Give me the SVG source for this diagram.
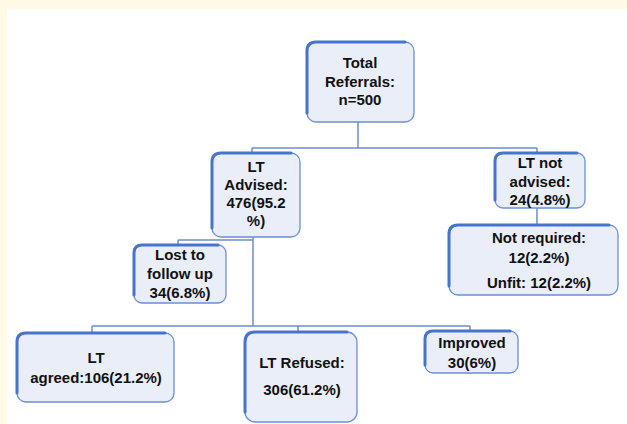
<svg xmlns="http://www.w3.org/2000/svg" width="627" height="424" viewBox="0 0 627 424">
<style>
.box{fill:#eaeef8;stroke:#6a90d6;stroke-width:1.3}
.edge{fill:none;stroke:#4674cc;stroke-width:3;stroke-linecap:round}
.conn{fill:none;stroke:#6c8dc8;stroke-width:1.5}
text{font-family:"Liberation Sans",Arial,sans-serif;font-weight:bold;font-size:15px;fill:#111111;text-anchor:middle}
</style>
<rect x="0" y="0" width="627" height="424" fill="#ffffff"/>
<rect x="0" y="0" width="627" height="9" fill="#fffae6"/>
<rect x="0" y="0" width="7" height="424" fill="#fffae6"/>
<g id="connectors">
<path class="conn" d="M358,122 V148 M252,148 H537 M252,148 V153 M537,148 V153"/>
<path class="conn" d="M253,237 V326 M178,240 H253 M178,240 V245"/>
<path class="conn" d="M92,326 H470 M92,326 V333 M298,326 V332 M470,326 V331"/>
<path class="conn" d="M537,208 V225"/>
</g>
<g id="total">
<rect class="box" x="307" y="42" width="107" height="80" rx="9"/>
<path class="edge" d="M307,113 V51 Q307,42 316,42 H405"/>
<text x="360" y="68">Total</text>
<text x="360" y="87">Referrals:</text>
<text x="360" y="105">n=500</text>
</g>
<g id="lt-advised">
<rect class="box" x="212" y="153" width="88" height="84" rx="9"/>
<path class="edge" d="M212,228 V162 Q212,153 221,153 H291"/>
<text x="256" y="172">LT</text>
<text x="256" y="190">Advised:</text>
<text x="256" y="208">476(95.2</text>
<text x="256" y="226">%)</text>
</g>
<g id="lt-not-advised">
<rect class="box" x="495" y="153" width="90" height="55" rx="8"/>
<path class="edge" d="M495,200 V161 Q495,153 503,153 H577"/>
<text x="540" y="168">LT not</text>
<text x="540" y="187">advised:</text>
<text x="540" y="205">24(4.8%)</text>
</g>
<g id="not-required">
<rect class="box" x="449" y="225" width="169" height="70" rx="9"/>
<path class="edge" d="M449,286 V234 Q449,225 458,225 H609"/>
<text x="539" y="243">Not required:</text>
<text x="539" y="263">12(2.2%)</text>
<text x="539" y="288">Unfit: 12(2.2%)</text>
</g>
<g id="lost">
<rect class="box" x="134" y="245" width="92" height="58" rx="8"/>
<path class="edge" d="M134,295 V253 Q134,245 142,245 H218"/>
<text x="180" y="260">Lost to</text>
<text x="180" y="279">follow up</text>
<text x="180" y="298">34(6.8%)</text>
</g>
<g id="lt-agreed">
<rect class="box" x="17" y="333" width="157" height="69" rx="9"/>
<path class="edge" d="M17,393 V342 Q17,333 26,333 H165"/>
<text x="96" y="363">LT</text>
<text x="96" y="383">agreed:106(21.2%)</text>
</g>
<g id="lt-refused">
<rect class="box" x="245" y="332" width="112" height="90" rx="10"/>
<path class="edge" d="M245,412 V342 Q245,332 255,332 H347"/>
<text x="302" y="368">LT Refused:</text>
<text x="302" y="395">306(61.2%)</text>
</g>
<g id="improved">
<rect class="box" x="425" y="331" width="93" height="42" rx="8"/>
<path class="edge" d="M425,365 V339 Q425,331 433,331 H510"/>
<text x="472" y="348">Improved</text>
<text x="472" y="368">30(6%)</text>
</g>
</svg>
